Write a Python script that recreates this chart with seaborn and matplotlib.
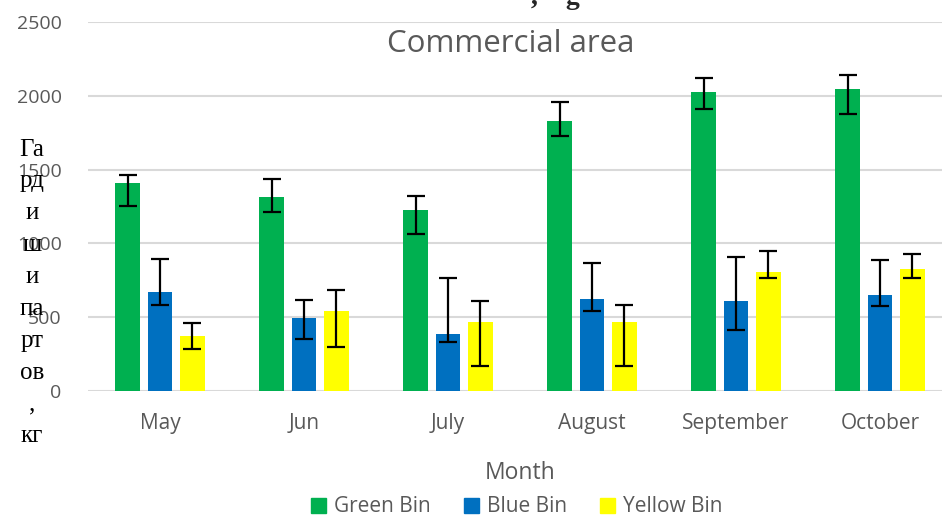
import matplotlib
matplotlib.use("Agg")
import matplotlib.pyplot as plt
import pandas as pd
import seaborn as sns

# values (kg)
months = ["May", "Jun", "July", "August", "September", "October"]
green_bin = [1407, 1317, 1226, 1831, 2028, 2044]
blue_bin = [670, 492, 384, 621, 607, 648]
yellow_bin = [370, 540, 467, 467, 804, 827]

# error bar ends (low, high)
green_low = [1255, 1210, 1064, 1728, 1908, 1877]
green_high = [1462, 1434, 1319, 1956, 2123, 2139]
blue_low = [583, 352, 330, 544, 411, 574]
blue_high = [894, 617, 764, 869, 908, 885]
yellow_low = [287, 296, 167, 167, 763, 763]
yellow_high = [463, 682, 610, 580, 951, 928]

series = ["Green Bin", "Blue Bin", "Yellow Bin"]
colors = ["#00B050", "#0070C0", "#FFFF00"]
y_ticks = [0, 500, 1000, 1500, 2000, 2500]

sns.set_theme(style="white")
SANS = ["Open Sans", "DejaVu Sans"]
plt.rcParams["font.family"] = SANS
GREY = "#595959"

df = pd.DataFrame({"Month": months, "Green Bin": green_bin,
                   "Blue Bin": blue_bin, "Yellow Bin": yellow_bin})
long = df.melt(id_vars="Month", var_name="bin", value_name="kg")

fig = plt.figure(figsize=(9.42, 5.18), dpi=100)
W, H = 942, 518
ax = fig.add_axes([88 / W, (H - 391) / H, (952 - 88) / W, (391 - 22) / H])

sns.barplot(data=long, x="Month", y="kg", hue="bin", order=months,
            hue_order=series, palette=colors, width=0.667, gap=0.22,
            linewidth=0, saturation=1, ax=ax, legend=False)

ends = {"Green Bin": (green_bin, green_low, green_high),
        "Blue Bin": (blue_bin, blue_low, blue_high),
        "Yellow Bin": (yellow_bin, yellow_low, yellow_high)}
for cont, name in zip(ax.containers, series):
    vals, lo, hi = ends[name]
    xs = [b.get_x() + b.get_width() / 2 for b in cont]
    yerr = [[v - l for v, l in zip(vals, lo)], [h - v for v, h in zip(vals, hi)]]
    ax.errorbar(xs, vals, yerr=yerr, fmt="none", ecolor="black",
                elinewidth=1.6, capsize=6.2, capthick=1.6, zorder=5)

ax.set_xlim(-0.5, len(months) - 0.5)
ax.set_ylim(0, 2500)
ax.set_yticks(y_ticks)
ax.grid(axis="y", color="#d9d9d9", linewidth=1.5)
ax.set_axisbelow(True)
for s in ax.spines.values():
    s.set_visible(False)
ax.tick_params(axis="y", length=0, pad=19, labelsize=14, labelcolor=GREY)
ax.tick_params(axis="x", length=0, pad=16, labelsize=15, labelcolor=GREY)
ax.set_xlabel("Month", fontsize=16.5, color=GREY, labelpad=19)
ax.set_ylabel("")

fig.text(511 / W, 1 - 44 / H, "Commercial area", ha="center", va="center",
         fontsize=22.5, color=GREY)
fig.text(32 / W, 1 - 293 / H, "Га\nрд\nи\nш\nи\nпа\nрт\nов\n,\nкг",
         ha="center", va="center", fontsize=18, linespacing=1.58,
         family=["Liberation Serif", "DejaVu Serif"], color="black")
# title of the source figure, cut off by the top edge
fig.text(580 / W, 1 - 4 / H, ",    g", ha="right", va="baseline",
         fontsize=20, fontweight="bold", family=["Liberation Serif", "DejaVu Serif"])

handles = [plt.Rectangle((0, 0), 1, 1, color=c) for c in colors]
fig.legend(handles, series, loc="center", bbox_to_anchor=(517 / W, 1 - 507 / H),
           ncol=3, frameon=False, handlelength=0.7, handleheight=0.7,
           columnspacing=1.6, handletextpad=0.4,
           prop={"family": SANS, "size": 15}, labelcolor=GREY)

fig.savefig("out.png", dpi=100)
